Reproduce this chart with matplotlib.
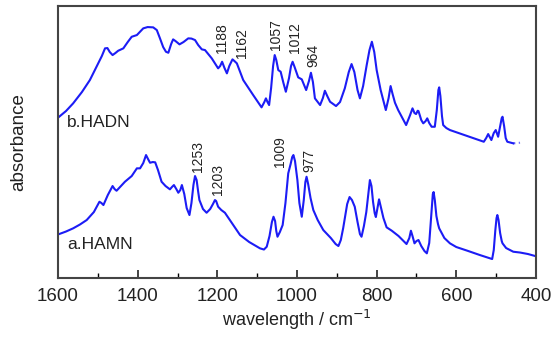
import matplotlib
matplotlib.use("Agg")
import matplotlib.pyplot as plt
from matplotlib.ticker import MultipleLocator

plt.rcParams["font.family"] = ["Liberation Sans", "DejaVu Sans"]

# spectra (wavenumber in cm-1, absorbance in arbitrary units)
hadn_wn = [1599, 1580, 1562, 1540, 1520, 1499, 1490, 1482, 1476, 1470, 1463, 1456, 1449,
           1436, 1425, 1415, 1402, 1386, 1375, 1361, 1352, 1344, 1336, 1329, 1323, 1316,
           1311, 1305, 1295, 1285, 1273, 1265, 1256, 1248, 1239, 1231, 1214, 1198, 1193,
           1188, 1182, 1176, 1170, 1162, 1157, 1151, 1135, 1110, 1089, 1082, 1078, 1074,
           1070, 1065, 1060, 1056, 1052, 1047, 1041, 1034, 1028, 1020, 1015, 1011, 1006,
           997, 988, 977, 970, 965, 960, 955, 942, 935, 930, 924, 917, 902, 892, 880, 870,
           863, 856, 848, 842, 834, 825, 818, 812, 806, 800, 790, 777, 770, 765, 760, 754,
           746, 726, 716, 710, 705, 701, 697, 695, 688, 683, 677, 673, 668, 662, 654, 649,
           645, 643, 640, 636, 633, 625, 616, 531, 525, 520, 516, 512, 506, 501, 495, 490,
           486, 484, 480, 476, 472, 457]
hadn_abs = [160.7, 167, 174.7, 186, 198, 214.7, 222, 229.7, 230, 226, 223, 225, 227.3,
            229.7, 236, 241.3, 243, 249.7, 251, 250.7, 248, 239.7, 231, 226.3, 225.3, 234,
            238.7, 237, 233.7, 236, 239.7, 239.5, 238, 233, 228.7, 228, 219.7, 209.7, 212,
            216.3, 210, 204.7, 212, 218.7, 217, 214.7, 198, 183, 170.7, 176, 179.7, 176,
            173, 190, 212, 223, 218, 208, 206.3, 195, 186.3, 200, 212, 216.3, 211,
            200.7, 198.7, 188, 197, 205.3, 196, 179.7, 173, 180, 187.3, 182, 176.3, 172, 176,
            189.7, 206, 214, 206, 188, 179.7, 192, 213, 228, 236.3, 226, 208, 188, 168, 180,
            192, 184, 175.3, 168, 153, 163, 169.7, 165, 164, 167.3, 167, 158, 154.7, 157,
            159.7, 155, 151.3, 151.3, 168, 188, 190.7, 182, 162, 153, 150, 148, 136.3, 140,
            144, 141, 138, 145, 148, 141.3, 152, 160, 161.3, 152, 140, 136.3, 134.7]
hadn_tail_wn = [457, 440]
hadn_tail_abs = [134.7, 135.3]

hamn_wn = [1599, 1580, 1562, 1545, 1528, 1510, 1496, 1491, 1486, 1475, 1463, 1458, 1453,
           1442, 1432, 1415, 1402, 1394, 1386, 1379, 1374, 1369, 1362, 1356, 1349, 1340,
           1330, 1319, 1314, 1309, 1303, 1298, 1293, 1289, 1283, 1277, 1270, 1265, 1260,
           1256, 1252, 1248, 1245, 1236, 1227, 1218, 1211, 1206, 1203, 1198, 1190, 1181,
           1160, 1143, 1120, 1093, 1083, 1076, 1069, 1063, 1059, 1055, 1052, 1049, 1043,
           1036, 1029, 1022, 1016, 1012, 1009, 1005, 999, 994, 988, 983, 979, 976, 972, 966,
           959, 948, 934, 915, 903, 896, 890, 884, 880, 874, 868, 862, 855, 848, 842, 838,
           832, 826, 821, 817, 813, 809, 805, 802, 798, 794, 790, 783, 775, 762, 745, 730,
           725, 718, 714, 710, 705, 700, 695, 688, 680, 674, 668, 663, 659, 657, 654, 650,
           646, 643, 630, 616, 600, 570, 541, 515, 510, 506, 502, 499, 497, 494, 490, 486,
           484, 475, 465, 457, 440, 420, 402]
hamn_abs = [43.7, 46.5, 49.7, 53.5, 58, 66, 76.3, 75, 73, 83, 92, 89, 87.3, 92, 96.3, 102,
            109.7, 109.7, 115, 123, 119, 115.3, 116, 115.7, 108, 96.3, 92, 88.7, 91, 93, 89,
            85.3, 88, 93, 84, 70, 63, 75, 93, 102, 98, 86, 78, 69, 65.3, 69, 74, 78, 77, 71.3,
            68, 65.3, 53, 43, 36, 29.7, 28.5, 31.3, 42, 56, 61.3, 57, 47, 41.3, 46, 53, 75,
            104.7, 114, 121, 123, 117, 98, 75, 61.3, 78, 96, 101.3, 94, 80, 68, 58, 48, 40,
            34, 32, 38, 50, 59.7, 74, 81, 78, 71.3, 56, 44, 41.3, 52, 66, 84, 98, 92, 76, 65,
            61, 70, 78.7, 72, 60, 50.7, 47.3, 42, 36, 34, 40, 47.3, 42, 34.7, 37, 38, 32, 27,
            24.7, 35, 63, 84, 86, 78, 62, 54, 49.7, 40, 34.7, 31, 27, 23, 19.7, 19, 28, 48,
            60, 63, 58, 45, 37, 34.7, 30, 28, 26.3, 25.5, 24, 22]

# peak labels: text, x position, bottom of text
hadn_peaks = ["1188", "1162", "1057", "1012", "964"]
hadn_peak_x = [1188, 1138, 1053, 1005, 960]
hadn_peak_y = [225, 220, 228, 225, 211]
hamn_peaks = ["1253", "1203", "1009", "977"]
hamn_peak_x = [1249, 1198, 1043, 970]
hamn_peak_y = [106, 83, 111, 106]

line_color = "#1c1cf5"
text_color = "#222222"

fig = plt.figure(figsize=(5.6, 3.37), dpi=100)
ax = fig.add_axes([0.1036, 0.175, 0.8535, 0.807])

ax.plot(hadn_wn, hadn_abs, color=line_color, lw=1.5)
ax.plot(hadn_tail_wn, hadn_tail_abs, color=line_color, lw=1.5, ls=":", alpha=0.6)
ax.plot(hamn_wn, hamn_abs, color=line_color, lw=1.5)

for txt, x, y in zip(hadn_peaks, hadn_peak_x, hadn_peak_y):
    ax.text(x, y, txt, rotation=90, ha="center", va="bottom", fontsize=10, color=text_color)
for txt, x, y in zip(hamn_peaks, hamn_peak_x, hamn_peak_y):
    ax.text(x, y, txt, rotation=90, ha="center", va="bottom", fontsize=10, color=text_color)

ax.text(1577, 163, "b.HADN", fontsize=12.5, ha="left", va="top", color=text_color)
ax.text(1577, 41, "a.HAMN", fontsize=12.5, ha="left", va="top", color=text_color)

ax.set_xlim(1600, 400)
ax.set_ylim(0, 272)
ax.xaxis.set_major_locator(MultipleLocator(200))
ax.xaxis.set_minor_locator(MultipleLocator(100))
ax.tick_params(axis="x", which="major", direction="in", length=6, width=1.2,
               labelsize=13.5, pad=7, colors=text_color)
ax.tick_params(axis="x", which="minor", direction="in", length=3.5, width=1.0)
ax.set_yticks([])
for s in ax.spines.values():
    s.set_linewidth(1.5)
    s.set_color("#444444")

ax.set_xlabel("wavelength / cm$^{-1}$", fontsize=13, color=text_color, labelpad=2)
ax.set_ylabel("absorbance", fontsize=13.5, color=text_color, labelpad=22)

fig.savefig("out.png", dpi=100)
